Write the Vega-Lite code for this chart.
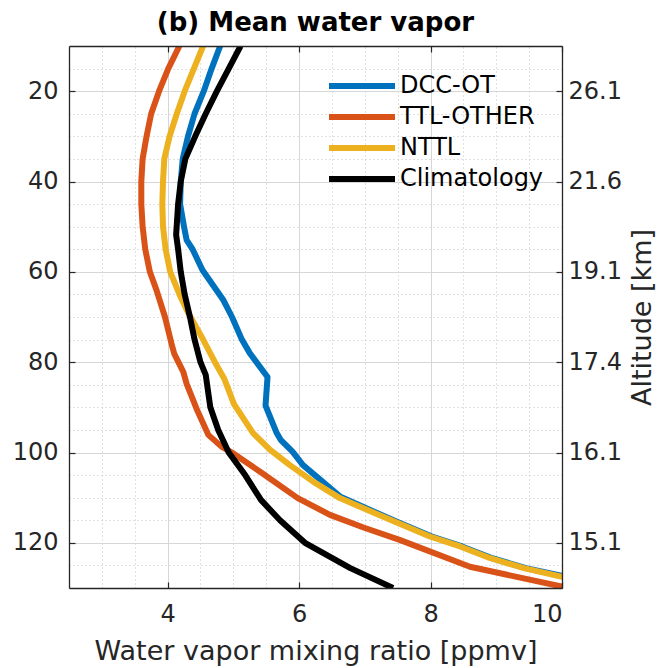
{
  "$schema": "https://vega.github.io/schema/vega-lite/v6.json",
  "width": 493,
  "height": 542,
  "autosize": {"type": "none"},
  "padding": {"left": 69, "top": 46, "right": 107, "bottom": 80},
  "background": "white",
  "title": {"text": "(b) Mean water vapor", "font": "DejaVu Sans", "fontSize": 26, "fontWeight": "bold", "anchor": "middle", "offset": 9, "color": "#000000"},
  "config": {
    "view": {"stroke": null},
    "axis": {"labelFont": "DejaVu Sans", "titleFont": "DejaVu Sans", "labelFontSize": 24, "titleFontSize": 27, "titleFontWeight": "normal", "labelColor": "#262626", "titleColor": "#262626", "domainColor": "#262626", "tickColor": "#262626", "domainWidth": 1.3, "tickWidth": 1.2},
    "legend": {"labelFont": "DejaVu Sans", "labelFontSize": 24, "labelColor": "#000000"}
  },
  "datasets": {
    "wv": [
      {"s": "DCC-OT", "p": 10, "w": 4.80}, {"s": "DCC-OT", "p": 15, "w": 4.67}, {"s": "DCC-OT", "p": 20, "w": 4.55}, {"s": "DCC-OT", "p": 25, "w": 4.41}, {"s": "DCC-OT", "p": 30, "w": 4.31}, {"s": "DCC-OT", "p": 35, "w": 4.23}, {"s": "DCC-OT", "p": 40, "w": 4.20}, {"s": "DCC-OT", "p": 45, "w": 4.19}, {"s": "DCC-OT", "p": 50, "w": 4.25}, {"s": "DCC-OT", "p": 53, "w": 4.29}, {"s": "DCC-OT", "p": 55, "w": 4.38}, {"s": "DCC-OT", "p": 59.6, "w": 4.53}, {"s": "DCC-OT", "p": 66.3, "w": 4.85}, {"s": "DCC-OT", "p": 70, "w": 4.98}, {"s": "DCC-OT", "p": 75, "w": 5.13}, {"s": "DCC-OT", "p": 78, "w": 5.25}, {"s": "DCC-OT", "p": 83.3, "w": 5.52}, {"s": "DCC-OT", "p": 89.6, "w": 5.49}, {"s": "DCC-OT", "p": 95.7, "w": 5.66}, {"s": "DCC-OT", "p": 97.2, "w": 5.72}, {"s": "DCC-OT", "p": 99.8, "w": 5.90}, {"s": "DCC-OT", "p": 102.8, "w": 6.06}, {"s": "DCC-OT", "p": 109.8, "w": 6.63}, {"s": "DCC-OT", "p": 115.3, "w": 7.48}, {"s": "DCC-OT", "p": 118.6, "w": 8.02}, {"s": "DCC-OT", "p": 120.8, "w": 8.48}, {"s": "DCC-OT", "p": 123.4, "w": 8.94}, {"s": "DCC-OT", "p": 125.6, "w": 9.45}, {"s": "DCC-OT", "p": 127.4, "w": 10.03}, {"s": "DCC-OT", "p": 130, "w": 10.8},
      {"s": "TTL-OTHER", "p": 10, "w": 4.18}, {"s": "TTL-OTHER", "p": 15, "w": 4.01}, {"s": "TTL-OTHER", "p": 20, "w": 3.87}, {"s": "TTL-OTHER", "p": 25, "w": 3.75}, {"s": "TTL-OTHER", "p": 30, "w": 3.68}, {"s": "TTL-OTHER", "p": 35, "w": 3.62}, {"s": "TTL-OTHER", "p": 40, "w": 3.60}, {"s": "TTL-OTHER", "p": 45, "w": 3.60}, {"s": "TTL-OTHER", "p": 50, "w": 3.62}, {"s": "TTL-OTHER", "p": 55, "w": 3.66}, {"s": "TTL-OTHER", "p": 60, "w": 3.73}, {"s": "TTL-OTHER", "p": 64, "w": 3.83}, {"s": "TTL-OTHER", "p": 70, "w": 3.96}, {"s": "TTL-OTHER", "p": 76.5, "w": 4.07}, {"s": "TTL-OTHER", "p": 78.1, "w": 4.10}, {"s": "TTL-OTHER", "p": 82.2, "w": 4.24}, {"s": "TTL-OTHER", "p": 84.8, "w": 4.29}, {"s": "TTL-OTHER", "p": 90.3, "w": 4.44}, {"s": "TTL-OTHER", "p": 96.1, "w": 4.62}, {"s": "TTL-OTHER", "p": 98.7, "w": 4.82}, {"s": "TTL-OTHER", "p": 100.2, "w": 5.00}, {"s": "TTL-OTHER", "p": 104.6, "w": 5.44}, {"s": "TTL-OTHER", "p": 110.1, "w": 5.98}, {"s": "TTL-OTHER", "p": 113.8, "w": 6.47}, {"s": "TTL-OTHER", "p": 116.6, "w": 6.98}, {"s": "TTL-OTHER", "p": 119.4, "w": 7.54}, {"s": "TTL-OTHER", "p": 125.3, "w": 8.60}, {"s": "TTL-OTHER", "p": 130, "w": 10.1},
      {"s": "NTTL", "p": 10, "w": 4.54}, {"s": "NTTL", "p": 15, "w": 4.40}, {"s": "NTTL", "p": 20, "w": 4.26}, {"s": "NTTL", "p": 25, "w": 4.14}, {"s": "NTTL", "p": 30, "w": 4.03}, {"s": "NTTL", "p": 35, "w": 3.95}, {"s": "NTTL", "p": 40, "w": 3.93}, {"s": "NTTL", "p": 45, "w": 3.92}, {"s": "NTTL", "p": 50, "w": 3.93}, {"s": "NTTL", "p": 55, "w": 3.97}, {"s": "NTTL", "p": 60, "w": 4.04}, {"s": "NTTL", "p": 65, "w": 4.18}, {"s": "NTTL", "p": 69, "w": 4.31}, {"s": "NTTL", "p": 75, "w": 4.54}, {"s": "NTTL", "p": 80, "w": 4.72}, {"s": "NTTL", "p": 83.6, "w": 4.86}, {"s": "NTTL", "p": 89.3, "w": 5.01}, {"s": "NTTL", "p": 95.7, "w": 5.30}, {"s": "NTTL", "p": 99.4, "w": 5.56}, {"s": "NTTL", "p": 102.8, "w": 5.86}, {"s": "NTTL", "p": 106.5, "w": 6.22}, {"s": "NTTL", "p": 110.1, "w": 6.62}, {"s": "NTTL", "p": 115.3, "w": 7.45}, {"s": "NTTL", "p": 118.6, "w": 7.99}, {"s": "NTTL", "p": 120.8, "w": 8.45}, {"s": "NTTL", "p": 123.4, "w": 8.91}, {"s": "NTTL", "p": 125.6, "w": 9.42}, {"s": "NTTL", "p": 127.5, "w": 10.0}, {"s": "NTTL", "p": 130, "w": 10.76},
      {"s": "Climatology", "p": 10, "w": 5.11}, {"s": "Climatology", "p": 15, "w": 4.93}, {"s": "Climatology", "p": 20, "w": 4.75}, {"s": "Climatology", "p": 25, "w": 4.58}, {"s": "Climatology", "p": 30, "w": 4.42}, {"s": "Climatology", "p": 35, "w": 4.27}, {"s": "Climatology", "p": 40, "w": 4.20}, {"s": "Climatology", "p": 45, "w": 4.16}, {"s": "Climatology", "p": 51.8, "w": 4.13}, {"s": "Climatology", "p": 55, "w": 4.16}, {"s": "Climatology", "p": 60, "w": 4.20}, {"s": "Climatology", "p": 65, "w": 4.26}, {"s": "Climatology", "p": 70, "w": 4.34}, {"s": "Climatology", "p": 75, "w": 4.41}, {"s": "Climatology", "p": 80, "w": 4.50}, {"s": "Climatology", "p": 82.8, "w": 4.58}, {"s": "Climatology", "p": 90, "w": 4.65}, {"s": "Climatology", "p": 95, "w": 4.77}, {"s": "Climatology", "p": 100, "w": 4.93}, {"s": "Climatology", "p": 105, "w": 5.18}, {"s": "Climatology", "p": 110.5, "w": 5.42}, {"s": "Climatology", "p": 115, "w": 5.71}, {"s": "Climatology", "p": 120, "w": 6.09}, {"s": "Climatology", "p": 125.6, "w": 6.78}, {"s": "Climatology", "p": 130, "w": 7.43}
    ]
  },
  "data": {"name": "wv"},
  "resolve": {"axis": {"x": "independent", "y": "independent"}},
  "layer": [
    {
      "transform": [{"filter": "datum.s == 'DCC-OT'"}],
      "mark": {"type": "line", "strokeWidth": 6, "clip": true, "strokeJoin": "round"},
      "encoding": {
        "x": {"field": "w", "type": "quantitative", "scale": {"domain": [2.5, 10], "nice": false, "zero": false},
          "axis": {"orient": "bottom", "values": [3, 3.5, 4, 4.5, 5, 5.5, 6, 6.5, 7, 7.5, 8, 8.5, 9, 9.5, 10], "grid": true, "labels": false, "ticks": false, "domain": false, "title": null, "zindex": 0,
            "gridColor": {"condition": {"test": "datum.value % 2 == 0", "value": "#d6d6d6"}, "value": "#c2c2c2"},
            "gridDash": {"condition": {"test": "datum.value % 2 == 0", "value": []}, "value": [1, 3]}}},
        "y": {"field": "p", "type": "quantitative", "scale": {"domain": [10, 130], "reverse": true, "nice": false, "zero": false},
          "axis": {"orient": "left", "values": [15, 20, 25, 30, 35, 40, 45, 50, 55, 60, 65, 70, 75, 80, 85, 90, 95, 100, 105, 110, 115, 120, 125, 130], "grid": true, "labels": false, "ticks": false, "domain": false, "title": null, "zindex": 0,
            "gridColor": {"condition": {"test": "datum.value % 20 == 0", "value": "#d6d6d6"}, "value": "#c2c2c2"},
            "gridDash": {"condition": {"test": "datum.value % 20 == 0", "value": []}, "value": [1, 3]}}},
        "color": {"field": "s", "type": "nominal", "scale": {"domain": ["DCC-OT", "TTL-OTHER", "NTTL", "Climatology"], "range": ["#0072BD", "#D95319", "#EDB120", "#000000"]},
          "legend": {"orient": "none", "legendX": 257, "legendY": 27, "title": null, "symbolType": "stroke", "symbolSize": 4356, "symbolStrokeWidth": 6, "clipHeight": 26, "rowPadding": 5, "padding": 0, "labelOffset": 2}},
        "order": {"field": "p", "type": "quantitative"}
      }
    },
    {
      "transform": [{"filter": "datum.s == 'TTL-OTHER'"}],
      "mark": {"type": "line", "strokeWidth": 6, "clip": true, "strokeJoin": "round"},
      "encoding": {
        "x": {"field": "w", "type": "quantitative", "scale": {"domain": [2.5, 10], "nice": false, "zero": false},
          "axis": {"orient": "bottom", "values": [4, 6, 8, 10], "grid": false, "tickSize": -6, "labelPadding": 20, "title": "Water vapor mixing ratio [ppmv]", "titlePadding": 12, "zindex": 1}},
        "y": {"field": "p", "type": "quantitative", "scale": {"domain": [10, 130], "reverse": true, "nice": false, "zero": false},
          "axis": {"orient": "left", "values": [20, 40, 60, 80, 100, 120], "grid": false, "tickSize": -6, "labelPadding": 17, "title": null, "zindex": 1}},
        "color": {"field": "s", "type": "nominal", "scale": {"domain": ["DCC-OT", "TTL-OTHER", "NTTL", "Climatology"], "range": ["#0072BD", "#D95319", "#EDB120", "#000000"]},
          "legend": {"orient": "none", "legendX": 257, "legendY": 27, "title": null, "symbolType": "stroke", "symbolSize": 4356, "symbolStrokeWidth": 6, "clipHeight": 26, "rowPadding": 5, "padding": 0, "labelOffset": 2}},
        "order": {"field": "p", "type": "quantitative"}
      }
    },
    {
      "transform": [{"filter": "datum.s == 'NTTL'"}],
      "mark": {"type": "line", "strokeWidth": 6, "clip": true, "strokeJoin": "round"},
      "encoding": {
        "x": {"field": "w", "type": "quantitative", "scale": {"domain": [2.5, 10], "nice": false, "zero": false},
          "axis": {"orient": "top", "values": [4, 6, 8, 10], "grid": false, "tickSize": -6, "labels": false, "title": null, "zindex": 1}},
        "y": {"field": "p", "type": "quantitative", "scale": {"domain": [10, 130], "reverse": true, "nice": false, "zero": false},
          "axis": {"orient": "right", "values": [20, 40, 60, 80, 100, 120], "grid": false, "tickSize": -6, "labelPadding": 12, "zindex": 1,
            "labelExpr": "datum.value == 20 ? '26.1' : datum.value == 40 ? '21.6' : datum.value == 60 ? '19.1' : datum.value == 80 ? '17.4' : datum.value == 100 ? '16.1' : '15.1'",
            "title": "Altitude [km]", "titleAngle": 270, "titleBaseline": "top", "titlePadding": 8}},
        "color": {"field": "s", "type": "nominal", "scale": {"domain": ["DCC-OT", "TTL-OTHER", "NTTL", "Climatology"], "range": ["#0072BD", "#D95319", "#EDB120", "#000000"]},
          "legend": {"orient": "none", "legendX": 257, "legendY": 27, "title": null, "symbolType": "stroke", "symbolSize": 4356, "symbolStrokeWidth": 6, "clipHeight": 26, "rowPadding": 5, "padding": 0, "labelOffset": 2}},
        "order": {"field": "p", "type": "quantitative"}
      }
    },
    {
      "transform": [{"filter": "datum.s == 'Climatology'"}],
      "mark": {"type": "line", "strokeWidth": 6, "clip": true, "strokeJoin": "round"},
      "encoding": {
        "x": {"field": "w", "type": "quantitative", "scale": {"domain": [2.5, 10], "nice": false, "zero": false}, "axis": null},
        "y": {"field": "p", "type": "quantitative", "scale": {"domain": [10, 130], "reverse": true, "nice": false, "zero": false}, "axis": null},
        "color": {"field": "s", "type": "nominal", "scale": {"domain": ["DCC-OT", "TTL-OTHER", "NTTL", "Climatology"], "range": ["#0072BD", "#D95319", "#EDB120", "#000000"]},
          "legend": {"orient": "none", "legendX": 257, "legendY": 27, "title": null, "symbolType": "stroke", "symbolSize": 4356, "symbolStrokeWidth": 6, "clipHeight": 26, "rowPadding": 5, "padding": 0, "labelOffset": 2}},
        "order": {"field": "p", "type": "quantitative"}
      }
    }
  ]
}
